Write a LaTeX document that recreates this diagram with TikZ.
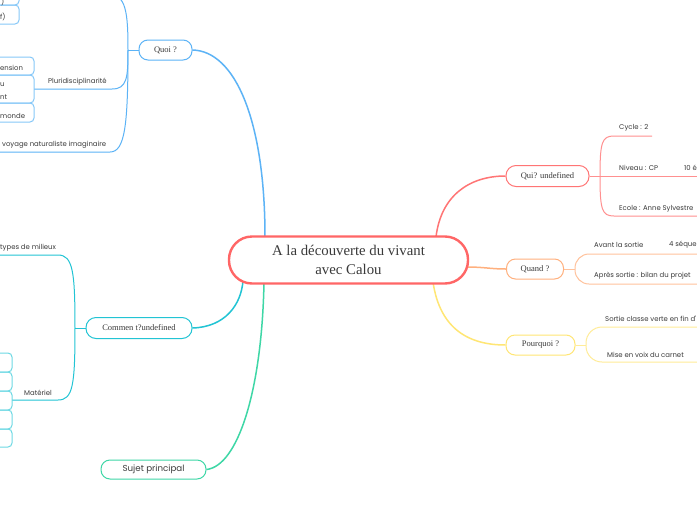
\documentclass[tikz,border=0pt]{standalone}
\usepackage{fontspec}
\setmainfont{Liberation Serif}
\newfontfamily\leaffont{Poppins}
\definecolor{txt}{HTML}{3A3A3A}
\definecolor{blueC}{HTML}{5CB3F6}
\definecolor{blueL}{HTML}{86C8F8}
\definecolor{cyanC}{HTML}{22C4D4}
\definecolor{cyanL}{HTML}{6ED9E4}
\definecolor{greenC}{HTML}{3ED7A6}
\definecolor{redC}{HTML}{FF6666}
\definecolor{quiC}{HTML}{FF7575}
\definecolor{quiL}{HTML}{FF9090}
\definecolor{orangeC}{HTML}{FFB07E}
\definecolor{orangeL}{HTML}{FFC29C}
\definecolor{yellowC}{HTML}{FFE674}
\definecolor{yellowL}{HTML}{FFEC98}
\pgfdeclarelayer{back}
\pgfdeclarelayer{lines}
\pgfsetlayers{back,lines,main}
\tikzset{
  topic/.style={draw, fill=white, inner sep=0pt, text=txt, line width=1pt,
    font=\fontsize{8.5}{10}\selectfont},
  leaftxt/.style={inner sep=0pt, text=txt, anchor=west,
    font=\leaffont\fontsize{6.9}{8}\selectfont},
  conn/.style={line width=1.5pt},
  sub/.style={line width=1pt},
}
\begin{document}
\begin{tikzpicture}[x=1pt,y=-1pt]
\useasboundingbox (0,0) rectangle (697,520);
\clip (0,0) rectangle (697,520);
\begin{pgfonlayer}{back}
\fill[white] (0,0) rectangle (697,520);
\end{pgfonlayer}

% ---------- main topics ----------
\node[topic, draw=redC, line width=2.4pt, minimum width=239pt, minimum height=47pt,
  rounded corners=23pt, align=center, font=\fontsize{14.8}{18.5}\selectfont]
  (c) at (348.5,260) {A la découverte du vivant\\avec Calou};
\node[topic, draw=blueC, minimum width=53pt, minimum height=20pt, rounded corners=9pt]
  (q) at (165.5,50) {Quoi ?};
\node[topic, draw=cyanC, minimum width=106pt, minimum height=21pt, rounded corners=10pt]
  (cm) at (139,328) {Commen t?undefined};
\node[topic, draw=greenC, minimum width=105pt, minimum height=19pt, rounded corners=9pt,
  font=\leaffont\fontsize{8.7}{10}\selectfont]
  (sp) at (153.5,469.5) {Sujet principal};
\node[topic, draw=quiC, minimum width=83pt, minimum height=21pt, rounded corners=10pt]
  (qui) at (547.5,176) {Qui? undefined};
\node[topic, draw=orangeC, minimum width=57pt, minimum height=20pt, rounded corners=9pt]
  (qd) at (535,269) {Quand ?};
\node[topic, draw=yellowC, minimum width=69pt, minimum height=20pt, rounded corners=9pt]
  (pq) at (540.5,345) {Pourquoi ?};

% attachment points on the central topic
\coordinate (cq) at (265,237);
\coordinate (ccm) at (243,281);
\coordinate (csp) at (264,282);
\coordinate (cqui) at (436,237);
\coordinate (cqd) at (466,267);
\coordinate (cpq) at (433,282);

% ---------- leaf texts ----------
\node[leaftxt] (t0) at (1,1.5) {)};
\node[leaftxt] (t1) at (0,17) {f)};
\node[leaftxt] (t2) at (0,68) {ension};
\node[leaftxt] (t3) at (0,85) {u};
\node[leaftxt] (t4) at (0,97) {nt};
\node[leaftxt] (t5) at (0,116) {monde};
\node[leaftxt] (pl) at (48,82) {Pluridisciplinarité};
\node[leaftxt] (vy) at (2,145) {voyage naturaliste imaginaire};
\node[leaftxt] (ty) at (0,248) {types de milieux};
\node[leaftxt] (mt) at (24,393) {Matériel};
\node[leaftxt] (cy) at (619,128) {Cycle : 2};
\node[leaftxt] (nv) at (619,168) {Niveau : CP};
\node[leaftxt] (el) at (684,168) {10 é};
\node[leaftxt] (ec) at (619,209) {Ecole : Anne Sylvestre};
\node[leaftxt] (av) at (594,245) {Avant la sortie};
\node[leaftxt] (sq) at (669,245) {4 séque};
\node[leaftxt] (ap) at (594,276) {Après sortie : bilan du projet};
\node[leaftxt] (so) at (605,319) {Sortie classe verte en fin d'};
\node[leaftxt] (mv) at (607,355) {Mise en voix du carnet};

% ---------- connectors ----------
\begin{pgfonlayer}{lines}
% main branches
\draw[conn, blueC] (q.east) .. controls (235,51) and (265,120) .. (cq);
\draw[conn, cyanC] (cm.east) .. controls (225,327) and (241,305) .. (ccm);
\draw[conn, greenC] (sp.east) .. controls (238,466) and (262,390) .. (csp);
\draw[conn, quiC] (cqui) .. controls (441,195) and (470,176) .. (qui.west);
\draw[conn, orangeC] (cqd) .. controls (485,267) and (490,269) .. (qd.west);
\draw[conn, yellowC] (cpq) .. controls (440,330) and (470,345) .. (pq.west);

% Quoi children
\coordinate (qb) at (128,50);
\coordinate (qtop) at (108,-6);
\coordinate (qtopL) at (-5,-6);
\coordinate (plR) at (112,89);
\coordinate (plL) at (34,89);
\coordinate (vyR) at (110,152);
\coordinate (vyL) at (-5,152);
\draw[sub, blueC] (q.west) -- (qb);
\draw[sub, blueC] (qb) .. controls (128,12) and (126,-6) .. (qtop) -- (qtopL);
\draw[sub, blueC] (qb) .. controls (128,78) and (127,89) .. (plR) -- (plL);
\draw[sub, blueC] (qb) .. controls (128,125) and (125,152) .. (vyR) -- (vyL);
% leaf boxes (blue)
\draw[sub, blueL, rounded corners=4pt] (-20,-15) rectangle (19,5);
\draw[sub, blueL, rounded corners=4pt] (-20,5) rectangle (19,24);
\draw[sub, blueL, rounded corners=4pt] (-20,57) rectangle (34,75);
\draw[sub, blueL, rounded corners=4pt] (-20,75) rectangle (34,103);
\draw[sub, blueL, rounded corners=4pt] (-20,103) rectangle (34,122);

% Comment children
\coordinate (cb) at (75,328);
\coordinate (tyR) at (58,255);
\coordinate (tyL) at (-5,255);
\coordinate (mtR) at (58,400);
\coordinate (mtL) at (12,400);
\draw[sub, cyanC] (cm.west) -- (cb);
\draw[sub, cyanC] (cb) .. controls (75,272) and (73,255) .. (tyR) -- (tyL);
\draw[sub, cyanC] (cb) .. controls (75,385) and (73,400) .. (mtR) -- (mtL);
\foreach \ya/\yb in {353/372,372/391,391/410,410/429,429/447}
  \draw[sub, cyanL, rounded corners=4pt] (-20,\ya) rectangle (12,\yb);

% Qui children
\coordinate (qub) at (600,176);
\coordinate (cyR) at (652,136);
\coordinate (cyL) at (614,136);
\coordinate (nvR) at (700,176);
\coordinate (ecL) at (614,216);
\coordinate (ecR) at (700,216);
\draw[sub, quiL] (qui.east) -- (nvR);
\draw[sub, quiL] (qub) .. controls (600,142) and (602,136) .. (cyL) -- (cyR);
\draw[sub, quiL] (qub) .. controls (600,210) and (602,216) .. (ecL) -- (ecR);

% Quand children
\coordinate (qdb) at (575,269);
\draw[sub, orangeL] (qd.east) -- (qdb);
\draw[sub, orangeL, rounded corners=14pt] (702,254) -- (575,254) -- (575,284) -- (702,284);

% Pourquoi children
\coordinate (pqb) at (586,345);
\draw[sub, yellowL] (pq.east) -- (pqb);
\draw[sub, yellowL, rounded corners=16pt] (702,327) -- (586,327) -- (586,362) -- (702,362);
\end{pgfonlayer}
\end{tikzpicture}
\end{document}
